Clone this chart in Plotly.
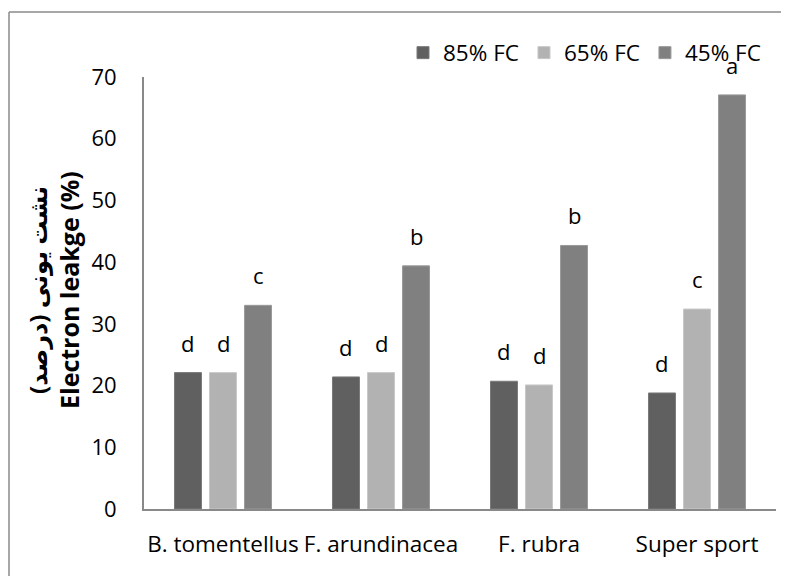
import plotly.graph_objects as go

categories = ["B. tomentellus", "F. arundinacea", "F. rubra", "Super sport"]
series_names = ["85% FC", "65% FC", "45% FC"]
fc85 = [22.1, 21.4, 20.7, 18.8]
fc65 = [22.1, 22.1, 20.1, 32.4]
fc45 = [33.0, 39.4, 42.7, 67.1]
letters85 = ["d", "d", "d", "d"]
letters65 = ["d", "d", "d", "c"]
letters45 = ["c", "b", "b", "a"]
y_ticks = [0, 10, 20, 30, 40, 50, 60, 70]
title_fa = "نشت یونی (درصد)"
title_en = "Electron leakge (%)"

colors = ["#606060", "#b2b2b2", "#808080"]
edges = ["#7a7a7a", "#c8c8c8", "#9a9a9a"]

# page body has an 8px margin; figure sized to fit the 789x576 window
OFF = 8
W, H = 789 - OFF, 576 - OFF
# target plot area in window pixels: x 144..776, y 77..509
PL, PR, PT, PB = 144, 776, 77, 509
ML, MR, MT, MB = PL - OFF, W - (PR - OFF), PT - OFF, H - (PB - OFF)
BARGAP = 0.335
GROUPGAP = 0.23
FONT = "Open Sans, DejaVu Sans, sans-serif"

fig = go.Figure()
values = [fc85, fc65, fc45]
letters = [letters85, letters65, letters45]
for name, vals, col, ec in zip(series_names, values, colors, edges):
    fig.add_trace(go.Bar(
        x=categories, y=vals, name=name,
        marker=dict(color=col, line=dict(color=ec, width=1)),
    ))

plot_w = PR - PL
plot_h = PB - PT
slot = plot_w / len(categories) * (1 - BARGAP) / 3
px_x = lambda p: (p - PL) / plot_w
px_y = lambda p: (PB - p) / plot_h

annotations = []
for i, (vals, labs) in enumerate(zip(values, letters)):
    for c, v, t in zip(categories, vals, labs):
        annotations.append(dict(
            x=c, y=v, text=t, showarrow=False, xref="x", yref="y",
            xshift=(i - 1) * slot, yshift=13, yanchor="bottom",
            font=dict(family=FONT, size=22, color="#000000"),
        ))

for txt, cx, fs in [(title_fa, 37, 24), (title_en, 69, 25)]:
    annotations.append(dict(
        x=px_x(cx), y=px_y(290), xref="paper", yref="paper",
        text="<b>" + txt + "</b>", textangle=-90, showarrow=False,
        xanchor="center", yanchor="middle",
        font=dict(family=FONT, size=fs, color="#000000"),
    ))

fig.update_layout(
    width=W, height=H,
    margin=dict(l=ML, r=MR, t=MT, b=MB, autoexpand=False),
    paper_bgcolor="white", plot_bgcolor="white",
    barmode="group", bargap=BARGAP, bargroupgap=GROUPGAP,
    font=dict(family=FONT, size=22, color="#000000"),
    annotations=annotations,
    legend=dict(
        orientation="h", x=px_x(766), xanchor="right",
        y=px_y(53), yanchor="middle",
        font=dict(family=FONT, size=22.5, color="#000000"),
        bgcolor="rgba(0,0,0,0)", itemclick=False,
    ),
    xaxis=dict(
        showline=True, linecolor="#898989", linewidth=2,
        showgrid=False, ticks="", ticklabelstandoff=14,
        tickfont=dict(family=FONT, size=22.5, color="#000000"),
        fixedrange=True, automargin=False,
    ),
    yaxis=dict(
        range=[0, 70], tickvals=y_ticks,
        showline=True, linecolor="#898989", linewidth=2,
        showgrid=False, zeroline=False, ticks="", ticklabelstandoff=21,
        tickfont=dict(family=FONT, size=22, color="#000000"),
        fixedrange=True, automargin=False,
    ),
    shapes=[
        dict(type="line", xref="paper", yref="paper",
             x0=px_x(9), x1=px_x(9), y0=px_y(600), y1=px_y(12),
             line=dict(color="#8a8a8a", width=1.5)),
        dict(type="line", xref="paper", yref="paper",
             x0=px_x(9), x1=px_x(820), y0=px_y(12), y1=px_y(12),
             line=dict(color="#8a8a8a", width=1.5)),
    ],
)

fig.write_html("out.html")
